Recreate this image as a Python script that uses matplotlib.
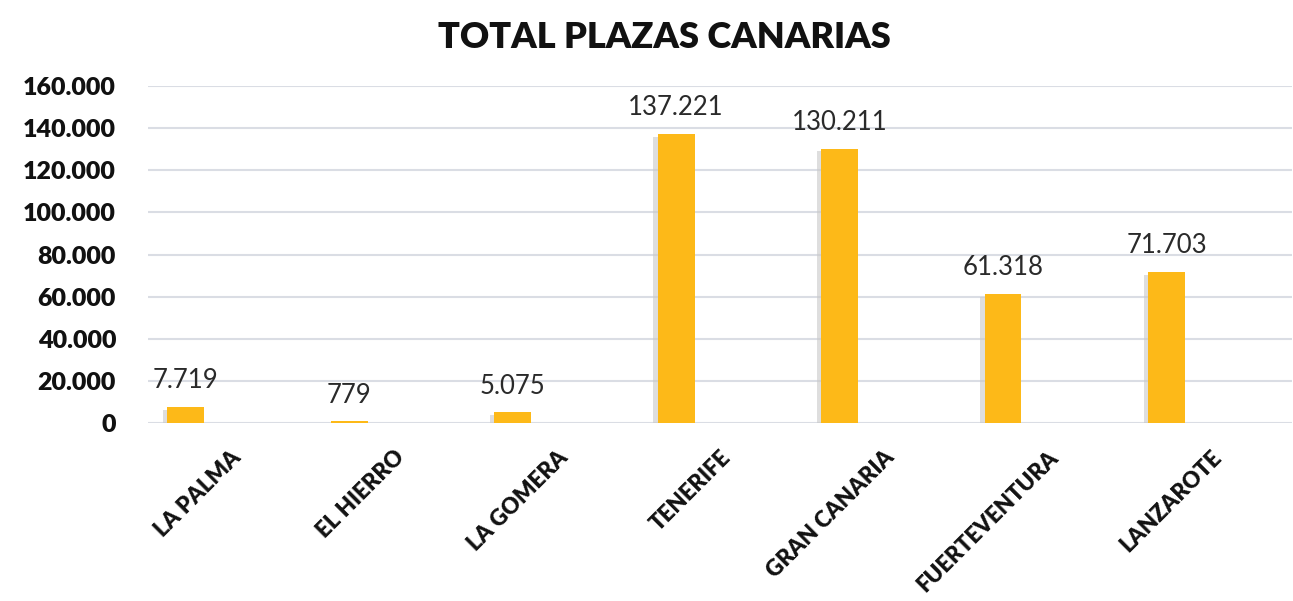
import numpy as np
import matplotlib.pyplot as plt
import matplotlib.patheffects as pe
from matplotlib.ticker import FuncFormatter

# data
islands = ["LA PALMA", "EL HIERRO", "LA GOMERA", "TENERIFE", "GRAN CANARIA", "FUERTEVENTURA", "LANZAROTE"]
plazas = [7719, 779, 5075, 137221, 130211, 61318, 71703]
labels = ["7.719", "779", "5.075", "137.221", "130.211", "61.318", "71.703"]

fig = plt.figure(figsize=(12.93, 6.01), dpi=100)
ax = fig.add_axes([0.1145, 0.296, 0.885, 0.561])

x = np.arange(len(islands))
bars = ax.bar(x - 0.27, plazas, width=0.226, color="#FDB918", zorder=3,
              path_effects=[pe.SimplePatchShadow(offset=(-3, -2), shadow_rgbFace="#c8c8c8", alpha=0.6), pe.Normal()])

for xi, v, lab in zip(x, plazas, labels):
    ax.text(xi - 0.27, v + 6500, lab, ha="center", va="bottom", fontsize=18.5,
            family="Lato", fontweight="normal", color="#2a2a2a")

ax.set_xlim(-0.5, 6.5)
ax.set_ylim(0, 160000)
ax.set_yticks(np.arange(0, 160001, 20000))
ax.yaxis.set_major_formatter(FuncFormatter(lambda v, p: f"{int(v):,}".replace(",", ".")))
ax.grid(axis="y", color="#dadde4", linewidth=1.5, zorder=0)
for s in ax.spines.values():
    s.set_visible(False)
ax.tick_params(axis="both", length=0)
ax.tick_params(axis="y", pad=23)
ax.set_xticks(x)
ax.set_xticklabels(islands, rotation=45, ha="right", rotation_mode="anchor")
ax.tick_params(axis="x", pad=17)
for t in ax.get_yticklabels():
    t.set_fontfamily("Lato")
    t.set_fontweight("heavy")
    t.set_fontsize(18)
    t.set_color("#111111")
for t in ax.get_xticklabels():
    t.set_fontfamily("Lato")
    t.set_fontweight("heavy")
    t.set_fontsize(16)
    t.set_color("#111111")

fig.suptitle("TOTAL PLAZAS CANARIAS", x=0.514, y=0.965, fontsize=26, fontweight="heavy", family="Lato", color="#111111")

plt.savefig("out.png", dpi=100)
